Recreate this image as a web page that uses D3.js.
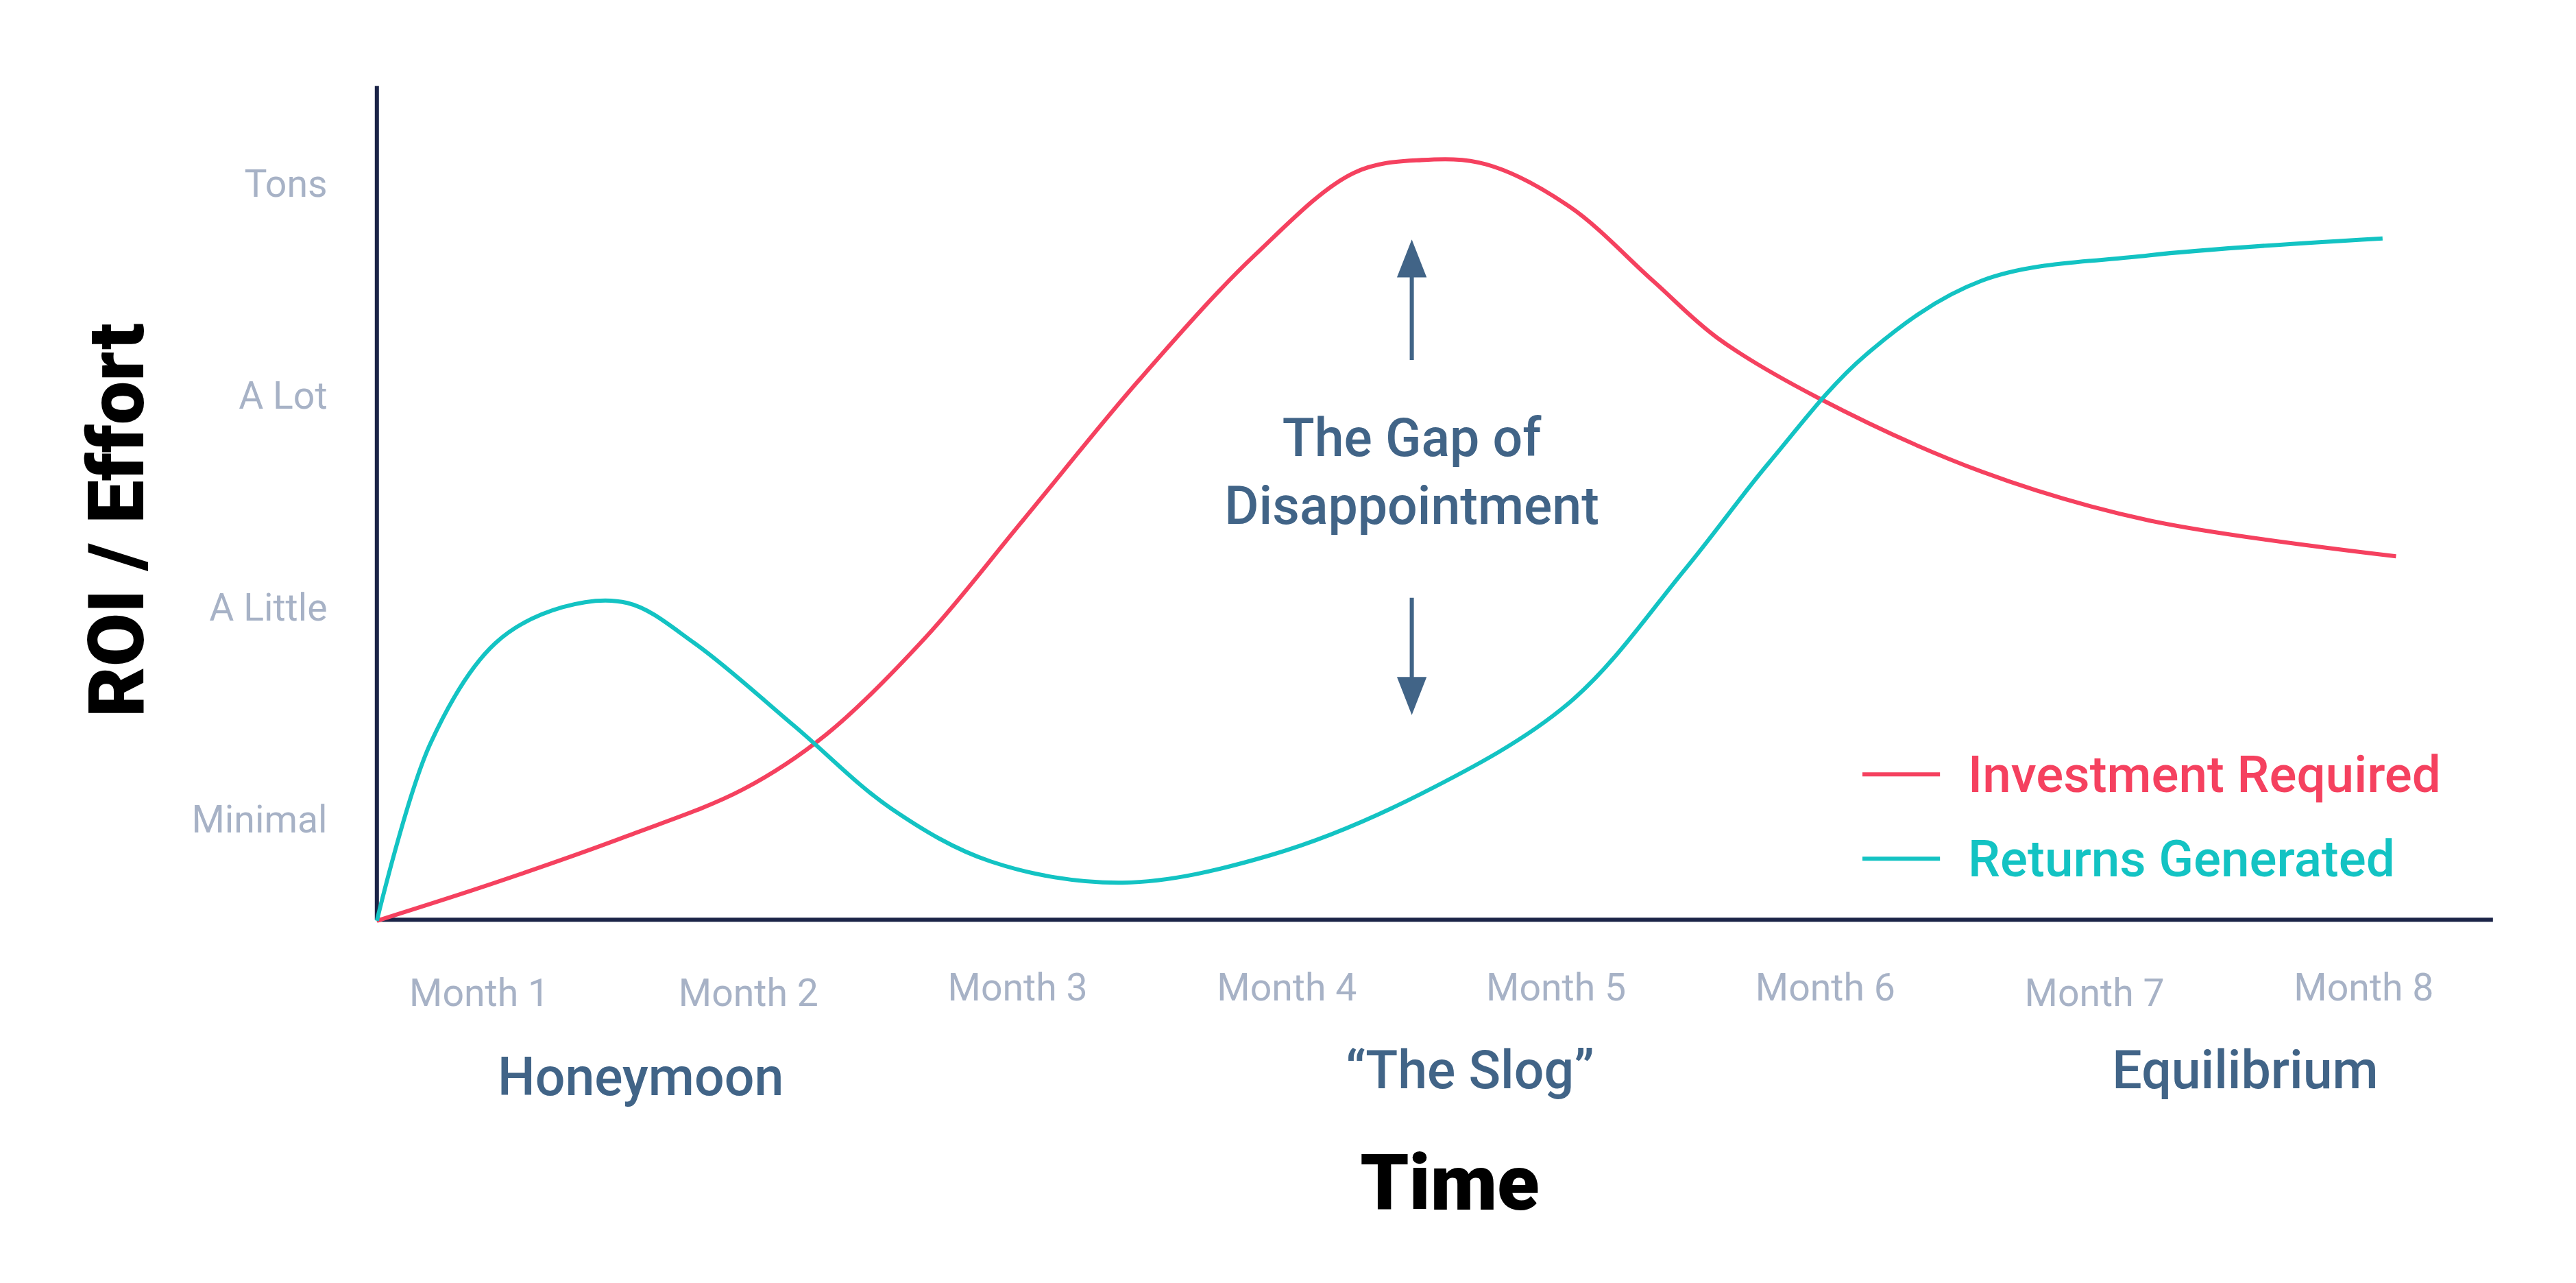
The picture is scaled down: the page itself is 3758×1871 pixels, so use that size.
<!DOCTYPE html>
<html>
<head>
<meta charset="utf-8">
<script src="https://cdn.jsdelivr.net/npm/d3@7"></script>
<style>
  body { margin: 0; background: #fff; }
  text { font-family: Roboto, "Open Sans", sans-serif; }
</style>
</head>
<body>
<svg id="chart"></svg>
<script>
// tick labels
const levels = ["Minimal", "A Little", "A Lot", "Tons"];
const months = ["Month 1", "Month 2", "Month 3", "Month 4", "Month 5", "Month 6", "Month 7", "Month 8"];
const monthDy = [3, 3, 0, 0, 0, 0, 3, 0];
const phases = [
  { label: "Honeymoon", x: 1.60, dy: 4 },
  { label: "\u201CThe Slog\u201D", x: 4.68, dy: 0 },
  { label: "Equilibrium", x: 7.56, dy: 0 }
];

// series values: [month position, level]
const investment = [[0.62,-0.48],[1.06,-0.30],[1.55,-0.08],[1.98,0.14],[2.29,0.40],[2.66,0.86],[3.02,1.41],
  [3.45,2.07],[3.88,2.66],[4.25,3.05],[4.50,3.11],[4.74,3.09],[5.05,2.89],[5.36,2.54],[5.60,2.27],
  [5.97,1.99],[6.58,1.64],[7.20,1.41],[8.12,1.24]];
const returns = [[0.62,-0.48],[0.82,0.36],[1.06,0.83],[1.31,1.00],[1.55,1.02],[1.80,0.83],[2.17,0.44],
  [2.53,0.05],[2.90,-0.20],[3.39,-0.30],[3.94,-0.17],[4.50,0.12],[5.05,0.55],[5.48,1.18],[5.79,1.68],
  [6.15,2.19],[6.58,2.54],[7.20,2.66],[8.07,2.74]];

const series = [
  { name: "Investment Required", color: "#f5415f", data: investment },
  { name: "Returns Generated", color: "#13c3c3", data: returns }
];

const W = 1560, H = 777;
const svg = d3.select("#chart")
  .attr("width", 3758).attr("height", 1871)
  .attr("viewBox", `0 0 ${W} ${H}`);

const x = d3.scaleLinear().domain([0.62, 8.48]).range([228, 1510]);
const y = d3.scaleLinear().domain([-0.475, 3.46]).range([557, 52]);

const tickColor = "#a7b2c6", blue = "#416487", navy = "#1b2447";

// axes
svg.append("line").attr("x1", x(0.62)).attr("x2", x(0.62)).attr("y1", y(3.46)).attr("y2", y(-0.475))
  .attr("stroke", navy).attr("stroke-width", 2.5);
svg.append("line").attr("x1", x(0.62)).attr("x2", x(8.48)).attr("y1", y(-0.475)).attr("y2", y(-0.475))
  .attr("stroke", navy).attr("stroke-width", 2.5);

svg.selectAll(".ylab").data(levels).join("text")
  .attr("x", 198).attr("y", (d, i) => y(i)).attr("dy", "0.35em")
  .attr("text-anchor", "end").attr("font-size", 23).attr("fill", tickColor).text(d => d);

svg.selectAll(".xlab").data(months).join("text")
  .attr("x", (d, i) => x(i + 1)).attr("y", (d, i) => 598 + monthDy[i]).attr("dy", "0.35em")
  .attr("text-anchor", "middle").attr("font-size", 23).attr("fill", tickColor).text(d => d);

svg.selectAll(".phase").data(phases).join("text")
  .attr("x", d => x(d.x)).attr("y", d => 648 + d.dy).attr("dy", "0.35em")
  .attr("text-anchor", "middle").attr("font-size", 32).attr("font-weight", 500)
  .attr("fill", blue).text(d => d.label);

svg.append("text").attr("x", 878).attr("y", 716).attr("dy", "0.35em").attr("text-anchor", "middle")
  .attr("font-size", 47).attr("font-weight", 900).attr("fill", "#000").text("Time");
svg.append("text").attr("transform", "translate(70,315) rotate(-90)").attr("dy", "0.35em")
  .attr("text-anchor", "middle").attr("font-size", 47).attr("font-weight", 900).attr("fill", "#000")
  .text("ROI / Effort");

// curves
const line = d3.line().x(d => x(d[0])).y(d => y(d[1])).curve(d3.curveCatmullRom.alpha(0.5));
svg.selectAll(".series").data(series).join("path")
  .attr("d", d => line(d.data)).attr("fill", "none")
  .attr("stroke", d => d.color).attr("stroke-width", 2.5);

// gap annotation
const gx = 855;
svg.append("text").attr("x", gx).attr("y", 265).attr("dy", "0.35em").attr("text-anchor", "middle")
  .attr("font-size", 32).attr("font-weight", 500).attr("fill", blue).text("The Gap of");
svg.append("text").attr("x", gx).attr("y", 306).attr("dy", "0.35em").attr("text-anchor", "middle")
  .attr("font-size", 32).attr("font-weight", 500).attr("fill", blue).text("Disappointment");
svg.append("line").attr("x1", gx).attr("x2", gx).attr("y1", 218).attr("y2", 160)
  .attr("stroke", blue).attr("stroke-width", 2.5);
svg.append("path").attr("d", `M${gx - 9},168 L${gx},145 L${gx + 9},168 Z`).attr("fill", blue);
svg.append("line").attr("x1", gx).attr("x2", gx).attr("y1", 362).attr("y2", 418)
  .attr("stroke", blue).attr("stroke-width", 2.5);
svg.append("path").attr("d", `M${gx - 9},410 L${gx},433 L${gx + 9},410 Z`).attr("fill", blue);

// legend
const leg = svg.selectAll(".leg").data(series).join("g")
  .attr("transform", (d, i) => `translate(1128,${469 + i * 51})`);
leg.append("line").attr("x1", 0).attr("x2", 47).attr("stroke", d => d.color).attr("stroke-width", 2.5);
leg.append("text").attr("x", 64).attr("dy", "0.35em").attr("font-size", 31).attr("font-weight", 500)
  .attr("fill", d => d.color).text(d => d.name);
</script>
</body>
</html>
